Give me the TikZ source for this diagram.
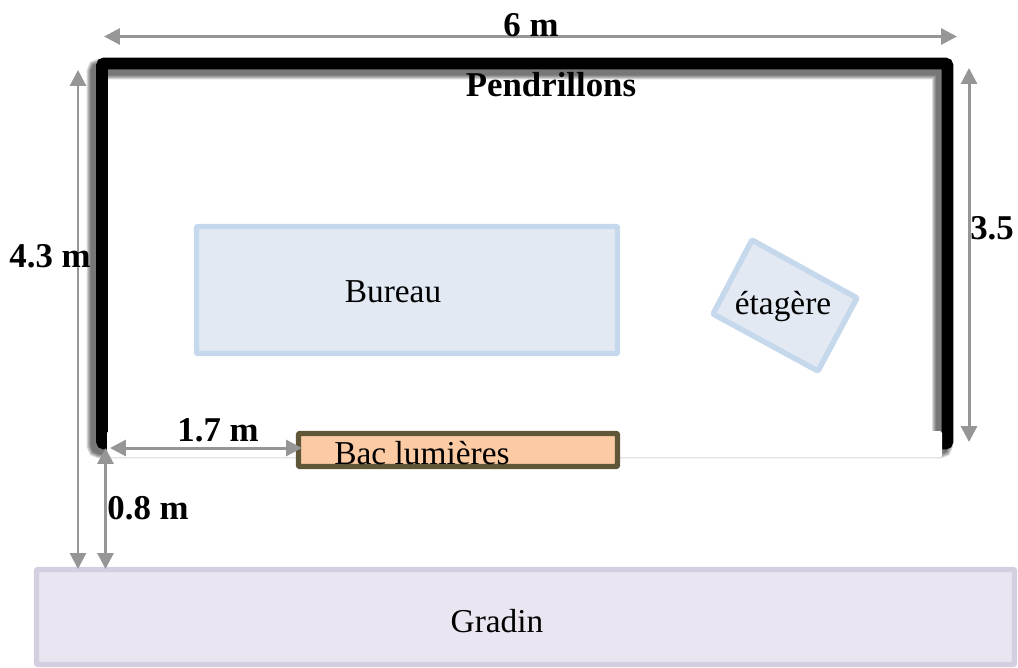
\documentclass[tikz,border=0pt]{standalone}
\usepackage{fontspec}
\setmainfont{Liberation Serif}
\usepackage{xcolor}
\usetikzlibrary{arrows.meta}
\definecolor{cote}{HTML}{969696}
\definecolor{bleufond}{HTML}{E2E9F3}
\definecolor{bleutrait}{HTML}{C6D8EC}
\definecolor{bacfond}{HTML}{FCCBA3}
\definecolor{bactrait}{HTML}{5F5737}
\definecolor{gradinfond}{HTML}{EAE5F1}
\definecolor{gradintrait}{HTML}{D5CDE0}
\tikzset{
	cotation/.style={{Triangle[length=9pt,width=9pt]}-{Triangle[length=9pt,width=9pt]},line width=1.7pt,cote},
	meuble/.style={line width=3.1pt,rounded corners=0.6pt,line join=round},
	texte/.style={inner sep=0pt,font=\fontsize{19}{22}\selectfont},
	gras/.style={inner sep=0pt,font=\fontsize{19.8}{23}\selectfont\bfseries}
}
\begin{document}
\begin{tikzpicture}[x=0.02cm,y=-0.02cm]
	\useasboundingbox (0,0) rectangle (1018,667);
	% gradin
	\draw[meuble,draw=gradintrait,fill=gradinfond] (36.5,569.5) rectangle (1014.5,664.5);
	% pendrillons avec leur ombre
	\foreach \w in {21,19,17,15,13}{
		\draw[black,opacity=0.14,line width=\w*0.5669pt,rounded corners=2pt] (97,69) rectangle (942.5,448);
	}
	\draw[black,line width=6.8pt,rounded corners=1.5pt] (102,63.5) rectangle (947.5,443.5);
	\fill[black!12] (107,433) rectangle (942,458);
	\fill[white,rounded corners=1pt] (107,431) rectangle (942,457);
	% meubles
	\draw[meuble,draw=bleutrait,fill=bleufond] (196.5,226.5) rectangle (617.5,353.5);
	\draw[meuble,draw=bleutrait,fill=bleufond] (752,240) -- (857,298) -- (818,371) -- (713,314) -- cycle;
	\draw[meuble,draw=bactrait,fill=bacfond] (298.5,433.5) rectangle (617.5,466.5);
	% extremites des cotes
	\coordinate (largeurG) at (104,36.5);
	\coordinate (largeurD) at (957,36.5);
	\coordinate (totalH) at (78,70);
	\coordinate (totalB) at (78,569);
	\coordinate (profH) at (969,68);
	\coordinate (profB) at (969,442);
	\coordinate (bacG) at (110,448);
	\coordinate (bacD) at (302,448);
	\coordinate (reculH) at (105.5,448);
	\coordinate (reculB) at (105.5,569);
	\draw[cotation] (largeurG) -- (largeurD);
	\draw[cotation] (totalH) -- (totalB);
	\draw[cotation] (profH) -- (profB);
	\draw[cotation] (bacG) -- (bacD);
	\draw[cotation] (reculH) -- (reculB);
	% textes
	\node[gras] (six) at (531,25) {6 m};
	\node[gras] (pendrillons) at (551,85) {Pendrillons};
	\node[gras] (quatre) at (50,256) {4.3 m};
	\node[gras] (trois) at (992,228) {3.5};
	\node[gras] (unsept) at (218,430) {1.7 m};
	\node[gras] (zerohuit) at (148,508) {0.8 m};
	\node[texte] (bureau) at (393,292) {Bureau};
	\node[texte] (etagere) at (783,306) {étagère};
	\node[texte] (bac) at (422,453) {Bac lumières};
	\node[texte] (gradin) at (497,621) {Gradin};
\end{tikzpicture}
\end{document}
